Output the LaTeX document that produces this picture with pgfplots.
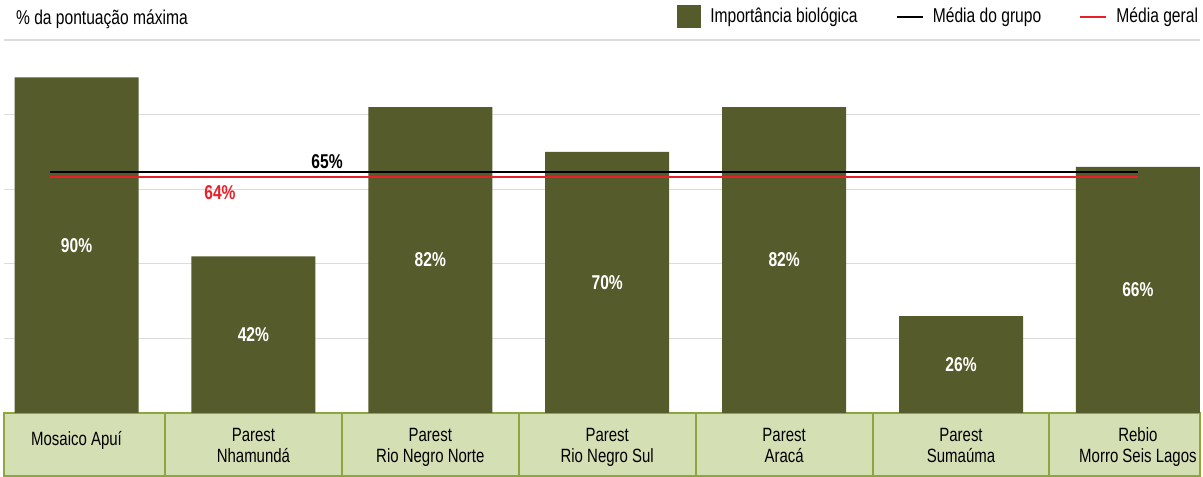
\documentclass[border=0pt]{standalone}
\usepackage{pgfplots}
\pgfplotsset{compat=1.18}
\usepackage{pgfplotstable}
\usepackage{fontspec}
\setmainfont{Liberation Sans}[FakeStretch=0.78]
\definecolor{barcol}{RGB}{85,91,42}
\definecolor{boxfill}{RGB}{212,223,180}
\definecolor{boxline}{RGB}{143,166,62}
\definecolor{redline}{RGB}{232,32,40}
\definecolor{gridcol}{RGB}{220,220,220}

\pgfplotstableread{
x v
0 90
1 42
2 82
3 70
4 82
5 26
6 66
}\bardata

\begin{document}
\fontsize{10}{10.7}\selectfont
\begin{tikzpicture}
\begin{axis}[
 set layers,
 scale only axis, width=598pt, height=186.5pt,
 xmin=-0.41, xmax=6.351, ymin=0, ymax=100,
 axis line style={draw=none},
 major tick style={draw=none},
 ytick={20,40,60,80,100}, yticklabels={},
 ymajorgrids, grid style={gridcol, line width=0.6pt},
 xtick={0,...,6},
 xticklabels={\raisebox{8.65pt}{Mosaico Apuí}, Parest\\Nhamundá, Parest\\Rio Negro Norte, Parest\\Rio Negro Sul, Parest\\Aracá, Parest\\Sumaúma, Rebio\\Morro Seis Lagos},
 xticklabel style={align=center, anchor=base, yshift=-25pt, font=\fontsize{9.6}{10.7}\selectfont},
 clip=false,
 legend columns=-1,
 legend cell align=left,
 legend style={draw=none, fill=none, at={(1,1)}, anchor=east, xshift=-1pt, yshift=11.5pt,
   inner sep=0pt, outer sep=0pt, font=\fontsize{10}{10.7}\selectfont, nodes={inner sep=0pt},
   /tikz/every odd column/.append style={column sep=4.5pt},
   /tikz/every even column/.append style={column sep=19pt}},
 /pgf/number format/assume math mode=true,
]
% category label boxes
\begin{pgfonlayer}{axis background}
\fill[boxfill] (axis cs:-0.41,0) rectangle (axis cs:6.351,-16.9);
\draw[boxline, line width=1pt] (axis cs:-0.41,0) rectangle (axis cs:6.351,-16.9);
\draw[boxline, line width=1pt]
  (axis cs:0.5,0) -- (axis cs:0.5,-16.9)
  (axis cs:1.5,0) -- (axis cs:1.5,-16.9)
  (axis cs:2.5,0) -- (axis cs:2.5,-16.9)
  (axis cs:3.5,0) -- (axis cs:3.5,-16.9)
  (axis cs:4.5,0) -- (axis cs:4.5,-16.9)
  (axis cs:5.5,0) -- (axis cs:5.5,-16.9);
\end{pgfonlayer}

\addplot[ybar, bar width=62pt, fill=barcol, draw=none,
  legend image code/.code={\fill[barcol] (0pt,-5.75pt) rectangle (12pt,5.75pt);}]
  table[x=x,y=v]{\bardata};
\addlegendentry{Importância biológica}

\addplot[black, line width=1.3pt,
  legend image code/.code={\draw[black, line width=1.1pt] (0pt,0pt) -- (13pt,0pt);}]
  coordinates {(-0.15,64.6) (6,64.6)};
\addlegendentry{Média do grupo}

\addplot[redline, line width=1.3pt,
  legend image code/.code={\draw[redline, line width=1.1pt] (0pt,0pt) -- (13pt,0pt);}]
  coordinates {(-0.15,63.3) (6,63.3)};
\addlegendentry{Média geral}

\addplot[forget plot, draw=none, mark=none,
  nodes near coords={\pgfmathprintnumber{\pgfplotspointmeta}\%},
  point meta=explicit,
  nodes near coords style={anchor=center, text=white, font=\bfseries\fontsize{10}{10}\selectfont}]
  table[x=x, y expr=\thisrow{v}/2, meta=v]{\bardata};

\node[font=\bfseries\fontsize{10}{10}\selectfont, text=black] at (axis cs:1.416,67.3) {65\%};
\node[font=\bfseries\fontsize{10}{10}\selectfont, text=redline] at (axis cs:0.811,59.2) {64\%};
\end{axis}
\node[anchor=base west] at ([xshift=2.5pt,yshift=7.5pt]current axis.north west) {\% da pontuação máxima};
\pgfresetboundingbox
\path ([xshift=-2pt,yshift=-32pt]current axis.south west) rectangle ([xshift=1.5pt,yshift=20pt]current axis.north east);
\end{tikzpicture}
\end{document}
